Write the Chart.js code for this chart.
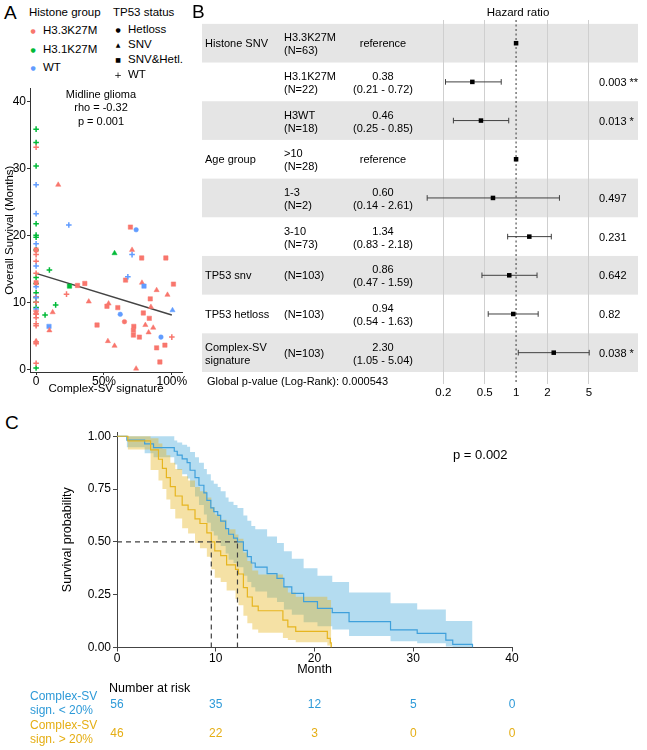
<!DOCTYPE html>
<html>
<head>
<meta charset="utf-8">
<script src="https://cdn.jsdelivr.net/npm/chart.js@4/dist/chart.umd.min.js"></script>
<style>
html,body{margin:0;padding:0;background:#fff}
body{width:647px;height:750px;position:relative;overflow:hidden;font-family:"Liberation Sans",Arial,Helvetica,sans-serif}
canvas{position:absolute}
.t{position:absolute;white-space:pre;color:#000;line-height:1.2}
</style>
</head>
<body>
<canvas id="cA" width="190" height="320" style="left:0px;top:80px"></canvas>
<canvas id="cB" width="446" height="400" style="left:197px;top:0px"></canvas>
<canvas id="cC" width="490" height="262" style="left:40px;top:420px"></canvas>
<script>
// ---------------- Panel A data ----------------
const H33 = 'H3.3K27M', H31 = 'H3.1K27M', HWT = 'WT';
const TH = 'Hetloss', TS = 'SNV', TB = 'SNV&Hetl.', TW = 'WT';
const histoneGroups = [H33, H31, HWT];
const tp53Groups = [TH, TS, TB, TW];

const scatterX = [
  0,0,0,0,0,0,0,0,0,0,0,0,0,0,
  0,0,0,0,0,0,0,0,0,0,0,0,0,0,
  0,0,0,0,0,0,0,
  0,0,0,0,
  0.098,0.066,0.144,0.095,0.098,0.122,0.163,0.241,0.246,0.224,
  0.305,0.359,0.388,0.449,0.529,0.534,0.522,0.578,0.578,0.602,
  0.620,0.651,0.659,0.676,0.695,0.737,0.707,0.707,0.720,0.717,
  0.717,0.737,0.761,0.778,0.780,0.795,0.790,0.805,0.829,0.834,
  0.841,0.846,0.863,0.888,0.888,0.912,0.920,0.949,0.968,0.956,
  1.0,1.012,1.005
];
const scatterY = [
  35.9,33.9,30.4,21.8,20.1,19.8,17.9,13.8,12.9,11.5,10.8,10.1,9.3,0.3,
  33.2,17.2,16.2,14.4,10.9,10.1,8.8,8.3,7.8,6.9,6.6,4.2,3.9,1.0,
  27.6,23.3,18.8,15.5,12.4,10.8,9.1,
  17.9,13.0,8.6,4.3,
  14.9,8.2,9.7,6.5,5.9,8.6,27.6,21.6,12.5,11.3,
  12.6,12.9,10.2,6.7,4.3,9.9,9.5,17.4,3.6,9.3,
  8.3,7.2,13.4,13.9,21.3,20.9,17.9,17.2,6.5,5.9,
  5.2,0.2,4.9,16.7,13.0,12.5,8.5,6.7,5.6,7.7,
  10.6,9.4,6.3,11.9,3.3,1.2,4.9,3.7,11.2,16.7,
  4.9,12.8,8.9
];
const scatterHistone = [
  H31,H31,H31,H31,H31,H31,H31,H31,H31,H31,H31,H31,H31,H31,
  H33,H33,H33,H33,H33,H33,H33,H33,H33,H33,H33,H33,H33,H33,
  HWT,HWT,HWT,HWT,HWT,HWT,HWT,
  H33,H33,H33,H33,
  H31,H31,H31,HWT,H33,H33,H33,HWT,H31,H33,
  H33,H33,H33,H33,H33,H33,H33,H31,H33,H33,
  HWT,H33,H33,HWT,H33,HWT,H33,HWT,H33,H33,
  H33,H33,H33,H33,H33,HWT,H33,H33,H33,H33,
  H33,H33,H33,H33,H33,H33,HWT,H33,H33,H33,
  H33,H33,HWT
];
const scatterTP53 = [
  TW,TW,TW,TW,TW,TW,TW,TW,TW,TW,TW,TW,TW,TW,
  TW,TW,TW,TW,TW,TW,TW,TW,TW,TW,TW,TW,TW,TW,
  TW,TW,TW,TW,TW,TW,TW,
  TB,TB,TS,TS,
  TW,TW,TW,TB,TS,TS,TS,TW,TB,TW,
  TB,TB,TS,TB,TS,TS,TB,TS,TS,TB,
  TH,TH,TB,TW,TB,TH,TS,TW,TB,TB,
  TB,TS,TB,TB,TS,TB,TB,TS,TS,TB,
  TB,TS,TS,TS,TB,TB,TH,TB,TS,TB,
  TW,TB,TS
];
const trendX = [0, 1.0];
const trendY = [14.4, 8.2];
const scatterXTicks = [0, 0.5, 1];
const scatterYTicks = [0, 10, 20, 30, 40];

// ---------------- Panel B data ----------------
const forestVar = ['Histone SNV','','','Age group','','','TP53 snv','TP53 hetloss','Complex-SV\nsignature'];
const forestLevel = ['H3.3K27M\n(N=63)','H3.1K27M\n(N=22)','H3WT\n(N=18)','>10\n(N=28)','1-3\n(N=2)','3-10\n(N=73)','(N=103)','(N=103)','(N=103)'];
const forestHR = [1, 0.38, 0.46, 1, 0.60, 1.34, 0.86, 0.94, 2.30];
const forestLo = [null, 0.21, 0.25, null, 0.14, 0.83, 0.47, 0.54, 1.05];
const forestHi = [null, 0.72, 0.85, null, 2.61, 2.18, 1.59, 1.63, 5.04];
const forestP = ['', '0.003 **', '0.013 *', '', '0.497', '0.231', '0.642', '0.82', '0.038 *'];
const forestTicks = [0.2, 0.5, 1, 2, 5];
const refHR = 1;
const globalP = 'Global p-value (Log-Rank): 0.000543';

// ---------------- Panel C data ----------------
const blueT = [0,1.0,2.8,3.7,5.8,6.1,6.6,7.1,7.4,7.9,8.3,8.8,9.1,9.5,9.8,10.2,10.5,11.0,11.3,11.8,12.2,12.8,13.2,13.6,14.0,15.2,16.2,16.9,17.7,18.9,20.3,21.8,23.5,27.7,30.4,33.3,34.0,36.0];
const blueS = [1.0,0.982,0.964,0.946,0.929,0.911,0.893,0.875,0.839,0.804,0.768,0.732,0.696,0.661,0.643,0.625,0.598,0.563,0.536,0.518,0.50,0.46,0.43,0.40,0.38,0.35,0.327,0.287,0.256,0.217,0.185,0.165,0.122,0.083,0.067,0.035,0.015,0.0];
const blueUpper = [1,1,1,1,0.98,0.97,0.96,0.95,0.925,0.90,0.875,0.845,0.82,0.79,0.775,0.76,0.74,0.71,0.69,0.675,0.66,0.625,0.60,0.575,0.56,0.525,0.495,0.455,0.42,0.375,0.34,0.31,0.26,0.21,0.18,0.125,0.125,0.125];
const blueLower = [1,0.948,0.92,0.90,0.866,0.84,0.82,0.80,0.76,0.715,0.675,0.63,0.59,0.55,0.53,0.51,0.48,0.445,0.415,0.40,0.38,0.34,0.31,0.285,0.265,0.235,0.215,0.18,0.155,0.12,0.10,0.085,0.055,0.03,0.02,0.005,0,0];
const yellowT = [0,1.1,3.4,4.2,4.6,5.0,5.4,5.9,6.6,7.2,7.9,8.4,9.1,9.55,9.9,10.5,11.1,12.0,12.3,12.8,13.2,13.7,14.3,16.8,17.3,18.1,21.3,21.6,21.7];
const yellowS = [1.0,0.978,0.935,0.891,0.848,0.804,0.761,0.717,0.674,0.652,0.609,0.587,0.543,0.50,0.457,0.435,0.391,0.370,0.348,0.283,0.239,0.196,0.174,0.130,0.098,0.076,0.043,0.022,0.0];
const yellowUpper = [1,1,0.99,0.965,0.94,0.91,0.875,0.845,0.81,0.79,0.76,0.74,0.71,0.665,0.63,0.605,0.56,0.535,0.515,0.45,0.41,0.365,0.345,0.29,0.26,0.24,0.225,0.225,0.225];
const yellowLower = [1,0.937,0.84,0.79,0.75,0.70,0.655,0.61,0.565,0.54,0.495,0.47,0.43,0.37,0.33,0.31,0.27,0.23,0.20,0.15,0.115,0.085,0.07,0.045,0.035,0.025,0.01,0,0];
const blueMedian = 12.2, yellowMedian = 9.55, medianLevel = 0.5;
const kmXTicks = [0, 10, 20, 30, 40];
const kmYTicks = [0, 0.25, 0.5, 0.75, 1];
const atRiskTimes = [0, 10, 20, 30, 40];
const atRiskLow = [56, 35, 12, 5, 0];
const atRiskHigh = [46, 22, 3, 0, 0];
const groupLabels = ['Complex-SV\nsign. < 20%', 'Complex-SV\nsign. > 20%'];

// ---------------- helpers ----------------
Chart.defaults.font.family = '"Liberation Sans", Arial, sans-serif';
Chart.defaults.color = '#000';
Chart.defaults.animation = false;
Chart.defaults.responsive = false;
Chart.defaults.plugins.legend.display = false;
Chart.defaults.plugins.tooltip.enabled = false;

function label(x, y, text, o = {}) {
  const d = document.createElement('div');
  d.className = 't';
  d.textContent = text;
  d.style.left = x + 'px';
  d.style.top = y + 'px';
  d.style.fontSize = (o.size || 11) + 'px';
  if (o.color) d.style.color = o.color;
  if (o.family) d.style.fontFamily = o.family;
  if (o.lh) d.style.lineHeight = o.lh;
  const ax = o.align === 'center' ? '-50%' : o.align === 'right' ? '-100%' : '0';
  d.style.textAlign = o.align || 'left';
  d.style.transform = `translate(${ax},-50%)`;
  document.body.appendChild(d);
  return d;
}
const fixTicks = arr => s => { s.ticks = arr.map(v => ({value: v})); };

// ---------------- Panel A ----------------
const colorMap = {[H33]: '#F8766D', [H31]: '#00BA38', [HWT]: '#619CFF'};
const styleMap = {[TH]: 'circle', [TS]: 'triangle', [TB]: 'rect', [TW]: 'cross'};
const radiusMap = {[TH]: 2.3, [TS]: 3.0, [TB]: 3.1, [TW]: 2.8};

new Chart(document.getElementById('cA'), {
  type: 'scatter',
  data: {datasets: [
    {
      data: scatterX.map((x, i) => ({x, y: scatterY[i]})),
      pointStyle: c => styleMap[scatterTP53[c.dataIndex]] || 'circle',
      pointRadius: c => radiusMap[scatterTP53[c.dataIndex]] || 2,
      pointBackgroundColor: c => colorMap[scatterHistone[c.dataIndex]] || '#000',
      pointBorderColor: c => colorMap[scatterHistone[c.dataIndex]] || '#000',
      pointBorderWidth: c => scatterTP53[c.dataIndex] === TW ? 1.5 : 0.5
    },
    {
      type: 'line',
      data: trendX.map((x, i) => ({x, y: trendY[i]})),
      borderColor: '#444', borderWidth: 1.5, pointRadius: 0
    }
  ]},
  options: {
    layout: {padding: {left: 2, right: 8, top: 5, bottom: 0}},
    scales: {
      x: {
        type: 'linear', bounds: 'data', min: -0.045, max: 1.075,
        afterBuildTicks: fixTicks(scatterXTicks),
        ticks: {callback: v => v === 0 ? '0' : Math.round(v * 100) + '%', font: {size: 12}, padding: -1, maxRotation: 0},
        grid: {drawOnChartArea: false, tickLength: 3, tickColor: '#333'},
        border: {color: '#333'},
        title: {display: true, text: 'Complex-SV signature', font: {size: 11.5}, padding: {top: 0, bottom: 4}},
        afterFit: s => { s.height = 28; }
      },
      y: {
        type: 'linear', bounds: 'data', min: -0.3, max: 42,
        afterBuildTicks: fixTicks(scatterYTicks),
        ticks: {font: {size: 12}, padding: 1},
        grid: {drawOnChartArea: false, tickLength: 3, tickColor: '#333'},
        border: {color: '#333'},
        title: {display: true, text: 'Overall Survival (Months)', font: {size: 11.5}, padding: {top: 1, bottom: 0}},
        afterFit: s => { s.width = 28; }
      }
    }
  }
});

label(4, 13, 'A', {size: 19});
label(29, 13, 'Histone group', {size: 11.5});
const legendHY = [31, 49.5, 68];
histoneGroups.forEach((g, i) => {
  label(33, legendHY[i], '●', {size: 6, color: colorMap[g], align: 'center', family: 'DejaVu Sans'});
  label(43, legendHY[i], g, {size: 11.5});
});
label(113, 13, 'TP53 status', {size: 11.5});
const legendTY = [29.5, 44.5, 59.5, 75];
const legendSym = {[TH]: '●', [TS]: '▲', [TB]: '■', [TW]: '+'};
const legendSymSize = {[TH]: 6, [TS]: 6, [TB]: 6, [TW]: 9};
tp53Groups.forEach((g, i) => {
  label(118, legendTY[i], legendSym[g], {size: legendSymSize[g], align: 'center', family: 'DejaVu Sans'});
  label(128, legendTY[i], g, {size: 11.5});
});
label(101, 94.5, 'Midline glioma', {size: 11, align: 'center'});
label(101, 108, 'rho = -0.32', {size: 11, align: 'center'});
label(101, 121.5, 'p = 0.001', {size: 11, align: 'center'});

// ---------------- Panel B ----------------
const rowIdx = forestHR.map((_, i) => i);
const forestYMin = -0.6, forestYMax = 8.81;
const bandPlugin = {
  id: 'bands',
  beforeDraw(chart) {
    const {ctx, chartArea: a, scales: {y}} = chart;
    ctx.save();
    ctx.fillStyle = '#e5e5e5';
    rowIdx.forEach(i => {
      if (i % 2 === 0) {
        const t = y.getPixelForValue(i - 0.5), b = y.getPixelForValue(i + 0.5);
        ctx.fillRect(a.left, Math.min(t, b), a.right - a.left, Math.abs(b - t));
      }
    });
    ctx.restore();
  }
};
const ciDatasets = rowIdx.filter(i => forestLo[i] !== null).map(i => ({
  data: [{x: forestLo[i], y: i}, {x: forestHi[i], y: i}],
  borderColor: '#404040', borderWidth: 1,
  pointStyle: 'line', pointRotation: 90, pointRadius: 2.8,
  pointBorderColor: '#404040', pointBorderWidth: 1
}));
const chartB = new Chart(document.getElementById('cB'), {
  type: 'line',
  data: {datasets: [
    {data: rowIdx.map(i => ({x: forestHR[i], y: i})), showLine: false, pointStyle: 'rect', pointRadius: 3.2,
     pointBackgroundColor: '#000', pointBorderColor: '#000', pointBorderWidth: 0},
    ...ciDatasets,
    {data: [{x: refHR, y: forestYMin}, {x: refHR, y: forestYMax}], borderColor: '#555', borderWidth: 1.2,
     borderDash: [2, 2.5], pointRadius: 0}
  ]},
  options: {
    layout: {padding: {left: 0, right: 0, top: 20, bottom: 0}},
    scales: {
      x: {
        type: 'logarithmic', bounds: 'data', min: 0.000962, max: 14.83,
        afterBuildTicks: fixTicks(forestTicks),
        ticks: {callback: v => String(v), font: {size: 11.5}, padding: 2, maxRotation: 0, autoSkip: false},
        grid: {color: c => (c.tick && c.tick.value === refHR) ? 'rgba(0,0,0,0)' : '#cfcfcf', drawTicks: false, lineWidth: 1},
        border: {display: false},
        afterFit: s => { s.height = 16; }
      },
      y: {type: 'linear', bounds: 'data', display: false, reverse: true, min: forestYMin, max: forestYMax}
    }
  },
  plugins: [bandPlugin]
});
label(192, 12, 'B', {size: 19});
label(518, 13, 'Hazard ratio', {size: 11.5, align: 'center'});
rowIdx.forEach(i => {
  const yy = chartB.scales.y.getPixelForValue(i) + 1;
  if (forestVar[i]) label(205, yy, forestVar[i], {size: 11});
  label(284, yy, forestLevel[i], {size: 11});
  const hrText = forestLo[i] === null ? 'reference'
    : forestHR[i].toFixed(2) + '\n(' + forestLo[i].toFixed(2) + ' - ' + forestHi[i].toFixed(2) + ')';
  label(383, yy, hrText, {size: 11, align: 'center'});
  if (forestP[i]) label(599, yy, forestP[i], {size: 11});
});
label(207, 382, globalP, {size: 11});

// ---------------- Panel C ----------------
const kmPts = (T, V) => T.map((t, i) => ({x: t, y: V[i]}));
const dashStyle = {borderColor: '#404040', borderDash: [5, 4], borderWidth: 1.2, pointRadius: 0};
const chartC = new Chart(document.getElementById('cC'), {
  type: 'line',
  data: {datasets: [
    {data: [{x: 0, y: medianLevel}, {x: blueMedian, y: medianLevel}], ...dashStyle},
    {data: [{x: yellowMedian, y: 0}, {x: yellowMedian, y: medianLevel}], ...dashStyle},
    {data: [{x: blueMedian, y: 0}, {x: blueMedian, y: medianLevel}], ...dashStyle},
    {data: kmPts(yellowT, yellowS), stepped: true, borderColor: '#E6B520', borderWidth: 1.2, pointRadius: 0},
    {data: kmPts(blueT, blueS), stepped: true, borderColor: '#3FA0DB', borderWidth: 1.2, pointRadius: 0},
    {data: kmPts(yellowT, yellowUpper), stepped: true, borderWidth: 0, pointRadius: 0, fill: '+1', backgroundColor: 'rgba(230,180,30,0.4)'},
    {data: kmPts(yellowT, yellowLower), stepped: true, borderWidth: 0, pointRadius: 0, fill: false},
    {data: kmPts(blueT, blueUpper), stepped: true, borderWidth: 0, pointRadius: 0, fill: '+1', backgroundColor: 'rgba(67,167,217,0.4)'},
    {data: kmPts(blueT, blueLower), stepped: true, borderWidth: 0, pointRadius: 0, fill: false}
  ]},
  options: {
    layout: {padding: {left: 20, right: 18, top: 12, bottom: 0}},
    plugins: {filler: {drawTime: 'beforeDatasetsDraw', propagate: false}},
    scales: {
      x: {
        type: 'linear', bounds: 'data', min: 0, max: 40,
        afterBuildTicks: fixTicks(kmXTicks),
        ticks: {font: {size: 12}, padding: 0, maxRotation: 0},
        grid: {drawOnChartArea: false, tickLength: 4, tickColor: '#444'},
        border: {color: '#444'},
        title: {display: true, text: 'Month', font: {size: 12.5}, padding: {top: 0, bottom: 5}},
        afterFit: s => { s.height = 34.5; }
      },
      y: {
        type: 'linear', bounds: 'data', min: 0, max: 1.02,
        afterBuildTicks: fixTicks(kmYTicks),
        ticks: {callback: v => v.toFixed(2), font: {size: 12}, padding: 2},
        grid: {drawOnChartArea: false, tickLength: 4, tickColor: '#444'},
        border: {color: '#444'},
        title: {display: true, text: 'Survival probability', font: {size: 12.5}, padding: {top: 0, bottom: 0}},
        afterFit: s => { s.width = 57; }
      }
    }
  }
});
label(5, 423, 'C', {size: 19});
label(453, 455, 'p = 0.002', {size: 13});
label(109, 688, 'Number at risk', {size: 12.5});
const blueText = '#2E9AD8', yellowText = '#E5AE14';
label(30, 704, groupLabels[0], {size: 12, color: blueText, lh: '1.15'});
label(30, 733, groupLabels[1], {size: 12, color: yellowText, lh: '1.15'});
atRiskTimes.forEach((t, i) => {
  const px = 40 + chartC.scales.x.getPixelForValue(t);
  label(px, 704, String(atRiskLow[i]), {size: 12, color: blueText, align: 'center'});
  label(px, 733, String(atRiskHigh[i]), {size: 12, color: yellowText, align: 'center'});
});
</script>
</body>
</html>
